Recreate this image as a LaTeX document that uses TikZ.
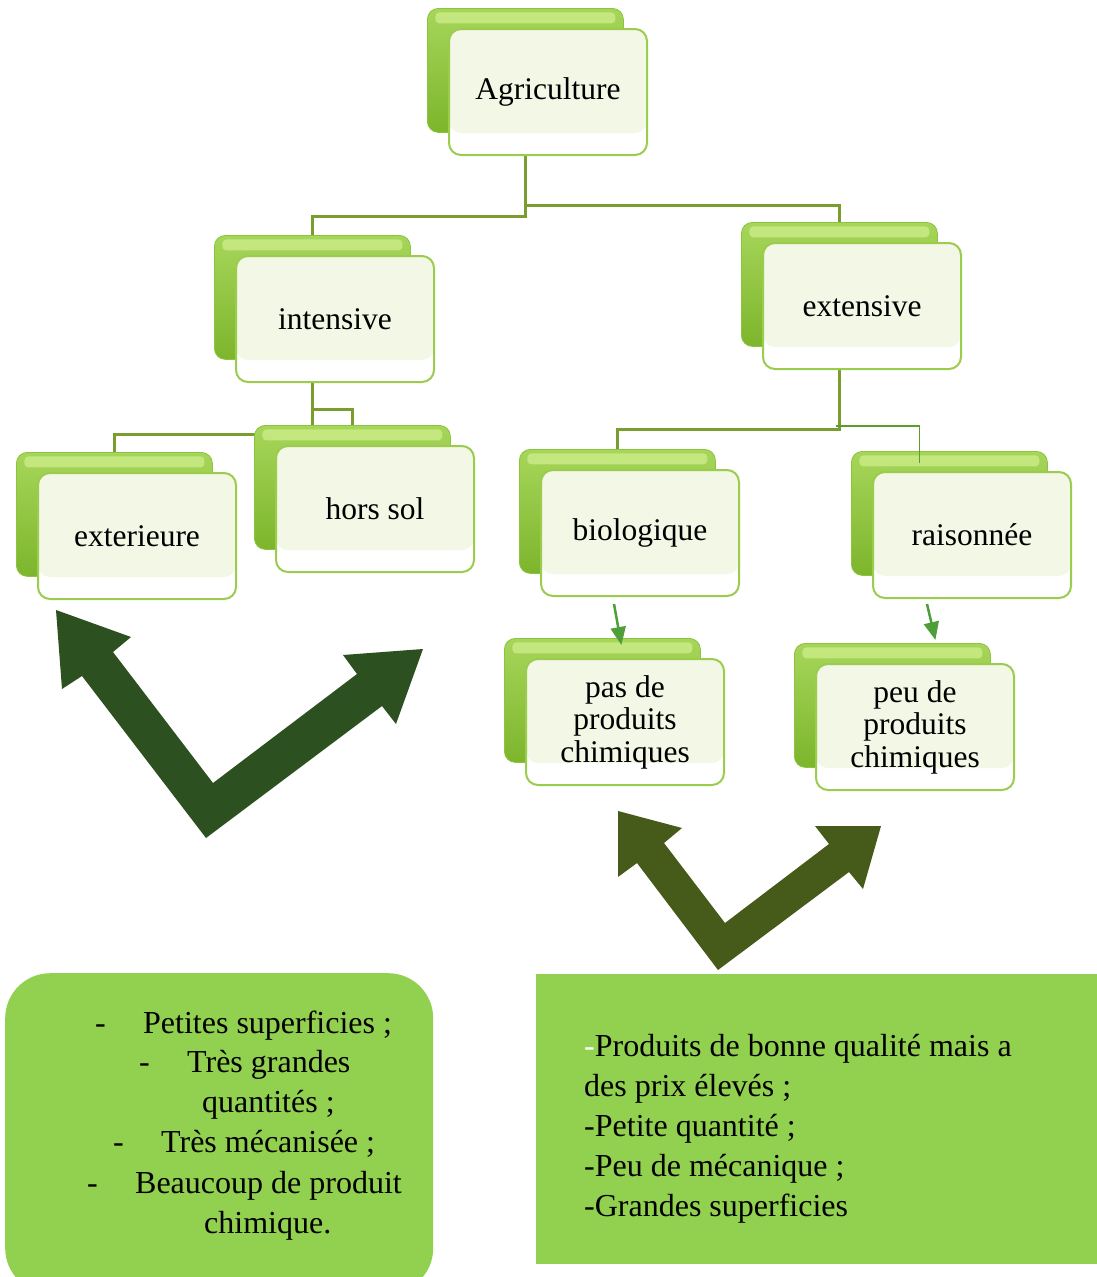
\documentclass[tikz,border=0pt]{standalone}
\usepackage{fontspec}
\setmainfont{Liberation Serif}
\usetikzlibrary{calc,arrows.meta,backgrounds}

\definecolor{backtop}{HTML}{A6D65A}
\definecolor{backbot}{HTML}{7DB52C}
\definecolor{backedge}{HTML}{8CC43E}
\definecolor{highlight}{HTML}{CFEE8C}
\definecolor{frontedge}{HTML}{9CCC4E}
\definecolor{pale}{HTML}{F2F7E6}
\definecolor{connline}{HTML}{7B9C2F}
\definecolor{thinline}{HTML}{5A9E2C}
\definecolor{arrowgreen}{HTML}{4E9E3A}
\definecolor{bigdark}{HTML}{2D5020}
\definecolor{bigolive}{HTML}{465A1A}
\definecolor{notegreen}{HTML}{92D050}

\newcommand\boxtextfont{\fontsize{31.5}{32.5}\selectfont}
\newcommand\notetextfont{\fontsize{32}{40}\selectfont}

\tikzset{
  backbox/.style={rounded corners=11pt, minimum width=196pt, minimum height=124pt,
    inner sep=0pt, top color=backtop, bottom color=backbot, draw=backedge, line width=0.8pt,
    path picture={\fill[highlight, opacity=0.75, rounded corners=4pt]
      ([xshift=8pt,yshift=-4pt]path picture bounding box.north west) rectangle
      ([xshift=-8pt,yshift=-15pt]path picture bounding box.north east);}},
  frontbox/.style={rounded corners=12pt, minimum width=198pt, minimum height=126pt,
    inner sep=2pt, fill=white, draw=frontedge, line width=2pt, align=center,
    font=\boxtextfont,
    path picture={\fill[pale]
      (path picture bounding box.north west) rectangle
      ([yshift=22pt]path picture bounding box.south east);}},
  conn/.style={draw=connline, line width=3pt},
  thinconn/.style={draw=thinline, line width=1.5pt},
  smallarrow/.style={draw=arrowgreen, line width=2.5pt,
    -{Triangle[length=18pt,width=15pt]}},
  notetext/.style={inner sep=0pt, font=\notetextfont, anchor=base west},
}

% a category: shaded green tab behind a pale labelled card
\newcommand\leafpair[4]{%
  \node[backbox, anchor=north west] (#1b) at (#2,#3) {};
  \node[frontbox, anchor=north west] (#1) at ($(#2,#3)+(21,20)$) {#4};
}

\begin{document}
\begin{tikzpicture}[x=1pt,y=-1pt]
\useasboundingbox (0,0) rectangle (1097,1277);

\leafpair{ag}{427}{8}{Agriculture}
\leafpair{int}{214}{235}{intensive}
\leafpair{ext}{741}{222}{extensive}
\leafpair{extr}{16}{452}{exterieure}
\leafpair{hors}{254}{425}{hors sol}
\leafpair{bio}{519}{449}{biologique}
\leafpair{rai}{851}{451}{raisonnée}
\leafpair{pas}{504}{638}{pas de\\produits\\chimiques}
\leafpair{peu}{794}{643}{peu de\\produits\\chimiques}

% tree connectors run underneath the cards
\begin{scope}[on background layer]
  \fill[white] (0,0) rectangle (1097,1277);
  \draw[conn] (agb.south) -- ++(0,84) -| (intb.north);
  \draw[conn] (agb.south) -- ++(0,73) -| (extb.north);
  \draw[conn] (intb.south) -- ++(0,75) -| (extrb.north);
  \draw[conn] (intb.south) -- ++(0,50) -| (horsb.north);
  \draw[conn] (extb.south) -- ++(0,83) -| (biob.north);
\end{scope}
\draw[thinconn] ($(extb.south)+(-3,79)$) -| ([xshift=-30pt,yshift=-12pt]raib.north);

% small arrows down to the consequences
\draw[smallarrow] ($(bio.south)+(-26,7)$) -- ($(pasb.north)+(19,7)$);
\draw[smallarrow] ($(rai.south)+(-45,5)$) -- ($(peub.north)+(43,-3)$);

% broad double-headed arrows
\fill[bigdark] (56,610) -- (131,637) -- (113,652) -- (213,783) -- (357,674)
  -- (343,655) -- (423,649) -- (396,724) -- (382,706) -- (206,838)
  -- (82,676) -- (62,689) -- cycle;
\fill[bigolive] (618,811) -- (682,828) -- (664,843) -- (725,923) -- (829,844)
  -- (815,826) -- (881,826) -- (863,889) -- (849,872) -- (718,970)
  -- (637,863) -- (618,877) -- cycle;

% characteristic boxes
\node[fill=notegreen, rounded corners=45pt, minimum width=428pt, minimum height=320pt,
  inner sep=0pt, anchor=north west] (leftnote) at (5,973) {};
\node[fill=notegreen, minimum width=561pt, minimum height=290pt,
  inner sep=0pt, anchor=north west] (rightnote) at (536,974) {};

\node[notetext] (l1) at (95,1033) {\makebox[48pt][l]{-}Petites superficies ;};
\node[notetext] (l2) at (139,1072) {\makebox[48pt][l]{-}Très grandes};
\node[notetext] (l3) at (202,1112) {quantités ;};
\node[notetext] (l4) at (113,1152) {\makebox[48pt][l]{-}Très mécanisée ;};
\node[notetext] (l5) at (87,1193) {\makebox[48pt][l]{-}Beaucoup de produit};
\node[notetext] (l6) at (204,1233) {chimique.};

\node[notetext] (r1) at (584,1056) {\textcolor{white}{-}Produits de bonne qualité mais a};
\node[notetext] (r2) at (584,1096) {des prix élevés ;};
\node[notetext] (r3) at (584,1136) {-Petite quantité ;};
\node[notetext] (r4) at (584,1176) {-Peu de mécanique ;};
\node[notetext] (r5) at (584,1216) {-Grandes superficies};
\end{tikzpicture}
\end{document}
